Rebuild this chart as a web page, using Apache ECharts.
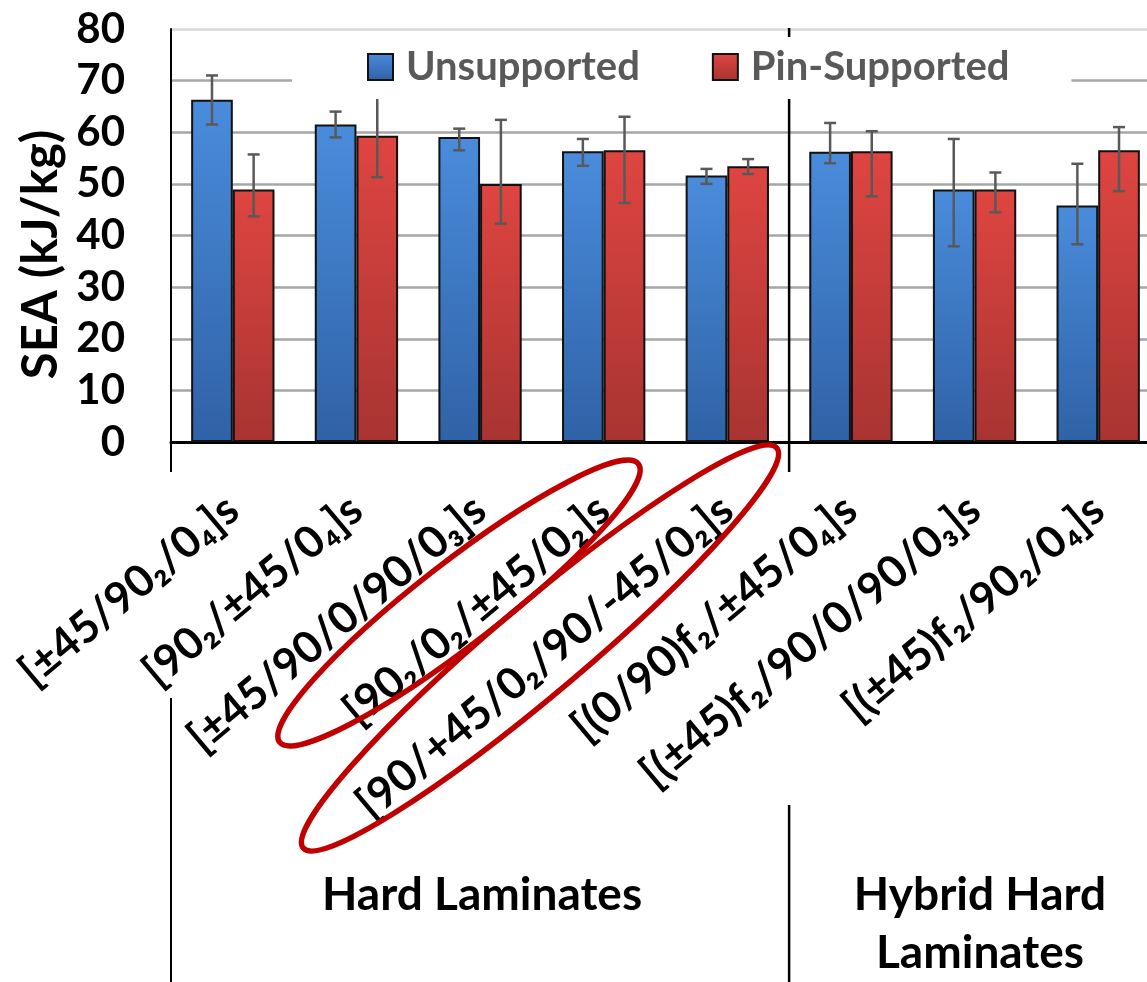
<!DOCTYPE html>
<html>
<head>
<meta charset="utf-8">
<script src="https://cdn.jsdelivr.net/npm/echarts@6/dist/echarts.min.js"></script>
<style>
  html, body { margin: 0; padding: 0; background: #fff; }
  #chart { width: 1147px; height: 982px; }
</style>
</head>
<body>
<div id="chart"></div>
<script>
// Laminate stacking sequences (category axis)
const categories = [
  '[±45/90₂/0₄]s',
  '[90₂/±45/0₄]s',
  '[±45/90/0/90/0₃]s',
  '[90₂/0₂/±45/0₂]s',
  '[90/+45/0₂/90/-45/0₂]s',
  '[(0/90)f₂/±45/0₄]s',
  '[(±45)f₂/90/0/90/0₃]s',
  '[(±45)f₂/90₂/0₄]s'
];

// Specific energy absorption, kJ/kg
const unsupported     = [66.3, 61.5, 59.1, 56.3, 51.6, 56.2, 48.9, 45.8];
const unsupportedLow  = [61.5, 59.0, 56.5, 53.5, 50.0, 54.0, 37.9, 38.3];
const unsupportedHigh = [71.0, 64.0, 60.7, 58.7, 52.9, 61.8, 58.7, 53.9];

const pinSupported    = [48.9, 59.3, 50.0, 56.5, 53.4, 56.3, 48.9, 56.5];
const pinLow          = [43.7, 51.3, 42.3, 46.3, 51.9, 47.6, 44.5, 48.6];
const pinHigh         = [55.7, 67.1, 62.4, 63.0, 54.8, 60.2, 52.2, 61.0];

const yTicks = [0, 10, 20, 30, 40, 50, 60, 70, 80];

// Laminate families: last category index of each family
const groupNames = ['Hard Laminates', 'Hybrid Hard\nLaminates'];
const groupEnds = [4, 7];

const FONT = 'Lato, "Open Sans", "DejaVu Sans", sans-serif';
const CAT_GAP = 0.326;                 // barCategoryGap as a fraction of the band
const HALF_OFFSET = (1 - CAT_GAP) / 4; // bar centre offset from band centre

const chart = echarts.init(document.getElementById('chart'), null, { renderer: 'canvas' });

function errorBars(name, low, high, side) {
  return {
    type: 'custom',
    name: name,
    silent: true,
    z: 5,
    encode: { x: 0, y: [1, 2] },
    data: low.map((l, i) => [i, l, high[i]]),
    renderItem(params, api) {
      const band = api.size([1, 0])[0];
      const top = api.coord([api.value(0), api.value(2)]);
      const bot = api.coord([api.value(0), api.value(1)]);
      const x = top[0] + side * band * HALF_OFFSET;
      const cap = 6;
      const style = { stroke: '#595959', lineWidth: 2.5 };
      return {
        type: 'group',
        children: [
          { type: 'line', shape: { x1: x, y1: top[1], x2: x, y2: bot[1] }, style },
          { type: 'line', shape: { x1: x - cap, y1: top[1], x2: x + cap, y2: top[1] }, style },
          { type: 'line', shape: { x1: x - cap, y1: bot[1], x2: x + cap, y2: bot[1] }, style }
        ]
      };
    }
  };
}

const blueFill = new echarts.graphic.LinearGradient(0, 0, 0, 1, [
  { offset: 0, color: '#4a8cdc' },
  { offset: 1, color: '#2f62a6' }
]);
const redFill = new echarts.graphic.LinearGradient(0, 0, 0, 1, [
  { offset: 0, color: '#df4541' },
  { offset: 1, color: '#a83431' }
]);

chart.setOption({
  animation: false,
  backgroundColor: '#fff',
  textStyle: { fontFamily: FONT },
  // the plot runs past the right edge of the page
  grid: { left: 171, width: 989, top: 29, bottom: 540, containLabel: false, outerBoundsMode: 'none' },
  legend: {
    data: ['Unsupported', 'Pin-Supported'],
    left: 292,
    top: 37,
    padding: [10, 62, 12, 75],
    backgroundColor: '#fff',
    itemGap: 72,
    itemWidth: 25,
    itemHeight: 26,
    icon: 'rect',
    itemStyle: { borderColor: '#111', borderWidth: 2 },
    textStyle: { fontFamily: FONT, fontSize: 40, fontWeight: 'bold', color: '#595959', padding: [0, 0, 0, 8] },
    z: 6
  },
  xAxis: {
    type: 'category',
    data: categories,
    axisLine: { lineStyle: { color: '#000', width: 3 } },
    axisTick: { show: false },
    splitLine: { show: false },
    axisLabel: {
      interval: 0,
      rotate: 40,
      margin: 62,
      fontFamily: FONT,
      fontSize: 44,
      fontWeight: 'bold',
      color: '#000'
    }
  },
  yAxis: {
    type: 'value',
    min: yTicks[0],
    max: yTicks[yTicks.length - 1],
    interval: 10,
    name: 'SEA (kJ/kg)',
    nameLocation: 'middle',
    nameGap: 104,
    nameTextStyle: { fontFamily: FONT, fontSize: 49, fontWeight: 'bold', color: '#000', padding: [0, 38, 0, 0] },
    axisLine: { show: true, lineStyle: { color: '#000', width: 2 } },
    axisTick: { show: false },
    axisLabel: { margin: 46, fontFamily: FONT, fontSize: 42, fontWeight: 'bold', color: '#000' },
    splitLine: {
      show: true,
      lineStyle: {
        color: ['#a6a6a6', '#a6a6a6', '#a6a6a6', '#a6a6a6', '#a6a6a6', '#a6a6a6', '#a6a6a6', '#a6a6a6', '#d9d9d9'],
        width: 2.5
      }
    }
  },
  series: [
    {
      name: 'Unsupported',
      type: 'bar',
      data: unsupported,
      barGap: '0%',
      barCategoryGap: (CAT_GAP * 100) + '%',
      itemStyle: { color: blueFill, borderColor: '#111', borderWidth: 2 },
      z: 2
    },
    {
      name: 'Pin-Supported',
      type: 'bar',
      data: pinSupported,
      barGap: '0%',
      barCategoryGap: (CAT_GAP * 100) + '%',
      itemStyle: { color: redFill, borderColor: '#111', borderWidth: 2 },
      z: 2
    },
    errorBars('Unsupported range', unsupportedLow, unsupportedHigh, -1),
    errorBars('Pin-Supported range', pinLow, pinHigh, 1)
  ]
});

// Family dividers, family labels and highlight rings, placed from the axis scales
const px = (i, v) => chart.convertToPixel({ xAxisIndex: 0, yAxisIndex: 0 }, [i, v]);
const band = px(1, 0)[0] - px(0, 0)[0];
const axisY = px(0, 0)[1];
const topY = px(0, yTicks[yTicks.length - 1])[1];
const leftX = px(0, 0)[0] - band / 2;
const lineStyle = { stroke: '#000', lineWidth: 2 };

const graphics = [
  { type: 'line', z: 1, shape: { x1: leftX, y1: axisY, x2: leftX, y2: axisY + 30 }, style: lineStyle },
  { type: 'line', z: 1, shape: { x1: leftX, y1: 698, x2: leftX, y2: 982 }, style: lineStyle }
];

let start = 0;
groupEnds.forEach((end, g) => {
  const xEdge = px(end, 0)[0] + band / 2;
  const xMid = (px(start, 0)[0] + px(end, 0)[0]) / 2;
  if (end < categories.length - 1) {
    graphics.push({ type: 'line', z: 1, shape: { x1: xEdge, y1: topY - 1, x2: xEdge, y2: axisY + 30 }, style: { stroke: '#000', lineWidth: 2.5 } });
    graphics.push({ type: 'line', z: 1, shape: { x1: xEdge, y1: 805, x2: xEdge, y2: 982 }, style: { stroke: '#000', lineWidth: 2.5 } });
  }
  const textX = g === 0 ? xMid + 2 : 980;
  graphics.push({
    type: 'text', z: 10,
    x: textX, y: g === 0 ? 895 : 924,
    style: {
      text: groupNames[g],
      fill: '#000',
      font: 'bold 46px ' + FONT,
      lineHeight: 58,
      align: 'center',
      verticalAlign: 'middle'
    }
  });
  start = end + 1;
});

// Rings around the two highlighted stacking sequences
const rings = [
  { cx: 459, cy: 603, rx: 227, ry: 41, angle: 37.8 },
  { cx: 540, cy: 648, rx: 310, ry: 45, angle: 40.2 }
];
rings.forEach(r => {
  graphics.push({
    type: 'ellipse', z: 20,
    x: r.cx, y: r.cy,
    rotation: r.angle * Math.PI / 180,
    shape: { cx: 0, cy: 0, rx: r.rx, ry: r.ry },
    style: { fill: null, stroke: '#c00000', lineWidth: 5.5 }
  });
});

chart.setOption({ graphic: graphics });
</script>
</body>
</html>
